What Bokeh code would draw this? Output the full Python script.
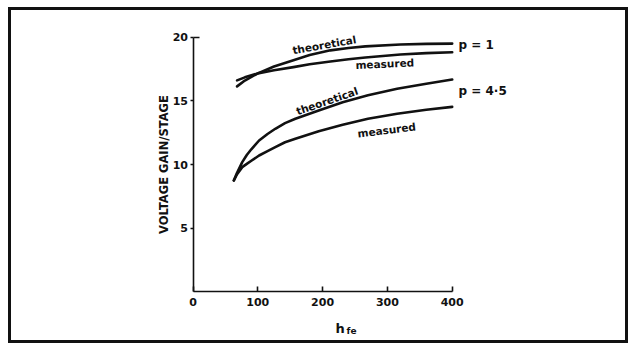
from bokeh.plotting import figure
from bokeh.models import Range1d, FixedTicker, LinearAxis
from bokeh.core.properties import value
from bokeh.embed import file_html
from bokeh.resources import INLINE

# ---- data ----
hfe_p1 = [68, 80, 100, 125, 155, 180, 212, 240, 266, 320, 360, 400]
theo_p1 = [16.14, 16.6, 17.16, 17.7, 18.2, 18.6, 18.97, 19.15, 19.28, 19.43, 19.48, 19.5]
meas_p1 = [16.61, 16.85, 17.16, 17.4, 17.65, 17.88, 18.1, 18.27, 18.41, 18.65, 18.75, 18.82]

hfe_p45 = [63, 68, 76, 83, 90, 102, 115, 127, 142, 158, 194, 231, 270, 315, 360, 400]
theo_p45 = [8.75, 9.35, 10.19, 10.75, 11.2, 11.89, 12.4, 12.81, 13.25, 13.6, 14.25,
            14.9, 15.45, 15.95, 16.35, 16.68]
meas_p45 = [8.75, 9.25, 9.8, 10.05, 10.3, 10.71, 11.05, 11.37, 11.75, 12.03, 12.62,
            13.13, 13.6, 13.99, 14.3, 14.53]

x_ticks = [0, 100, 200, 300, 400]
y_ticks = [5, 10, 15, 20]

curve_labels = ["theoretical", "measured", "theoretical", "measured"]
series_labels = ["p = 1", "p = 4·5"]
x_title = ["h", "fe"]
y_title = "VOLTAGE GAIN/STAGE"

INK = "#111111"
FONT = "DejaVu Sans"

p = figure(width=620, height=336, output_backend="svg", toolbar_location=None,
           x_range=Range1d(-280.1, 676.7), y_range=Range1d(-4.29, 22.1),
           min_border_left=0, min_border_right=0,
           min_border_top=0, min_border_bottom=0)
p.styles = {"margin-left": "8px", "margin-top": "7px",
            "border": "3px solid #111111"}
p.background_fill_color = "white"
p.border_fill_color = "white"
p.outline_line_color = None
p.xgrid.visible = False
p.ygrid.visible = False

# axes
for ax in (p.xaxis, p.yaxis):
    ax.fixed_location = 0
    ax.axis_line_color = INK
    ax.axis_line_width = 1.6
    ax.major_tick_line_color = INK
    ax.major_tick_line_width = 1.6
    ax.minor_tick_line_color = None
    ax.major_label_text_font = FONT
    ax.major_label_text_font_style = "bold"
    ax.major_label_text_color = INK
    ax.major_label_text_font_size = "11px"

p.xaxis.bounds = (0, 400)
p.xaxis.ticker = FixedTicker(ticks=x_ticks)
p.xaxis.major_tick_in = 5
p.xaxis.major_tick_out = 0
p.xaxis.major_label_standoff = 6

p.yaxis.bounds = (0, 20)
p.yaxis.ticker = FixedTicker(ticks=y_ticks)
p.yaxis.major_tick_in = 0
p.yaxis.major_tick_out = 3
p.yaxis.major_label_standoff = 2

# short inward cap at the top of the y axis
cap = LinearAxis(fixed_location=0, ticker=FixedTicker(ticks=[20]),
                 axis_line_color=None, major_tick_in=6, major_tick_out=0,
                 major_tick_line_color=INK, major_tick_line_width=1.6,
                 minor_tick_line_color=None, major_label_text_alpha=0,
                 major_label_text_font_size="1px")
p.add_layout(cap, "left")

# curves
for xs, ys in ((hfe_p1, theo_p1), (hfe_p1, meas_p1),
               (hfe_p45, theo_p45), (hfe_p45, meas_p45)):
    p.line(xs, ys, line_width=2.6, line_color=INK, line_cap="round",
           line_join="round")

# curve annotations
p.text(x=[153.5, 250.8, 159.7, 253.9], y=[18.97, 17.82, 14.17, 12.44],
       text=curve_labels, angle=[10, 2.5, 19, 7], angle_units="deg",
       text_font=value(FONT), text_font_style="bold", text_font_size="10.5px",
       text_color=INK, text_baseline="alphabetic", text_align="left")

p.text(x=[409.7, 409.7], y=[19.36, 15.77], text=series_labels,
       text_font=value(FONT), text_font_style="bold", text_font_size="12px",
       text_color=INK, text_baseline="middle", text_align="left")

# axis titles
p.text(x=[-45.5], y=[10.0], text=[y_title], angle=[90], angle_units="deg",
       text_font=value(FONT), text_font_style="bold", text_font_size="11.5px",
       text_color=INK, text_baseline="middle", text_align="center")
p.text(x=[219.9], y=[-2.875], text=[x_title[0]],
       text_font=value(FONT), text_font_style="bold", text_font_size="13px",
       text_color=INK, text_baseline="alphabetic", text_align="left")
p.text(x=[236.9], y=[-3.11], text=[x_title[1]],
       text_font=value(FONT), text_font_style="bold", text_font_size="9px",
       text_color=INK, text_baseline="alphabetic", text_align="left")

open("out.html", "w").write(file_html(p, INLINE))
